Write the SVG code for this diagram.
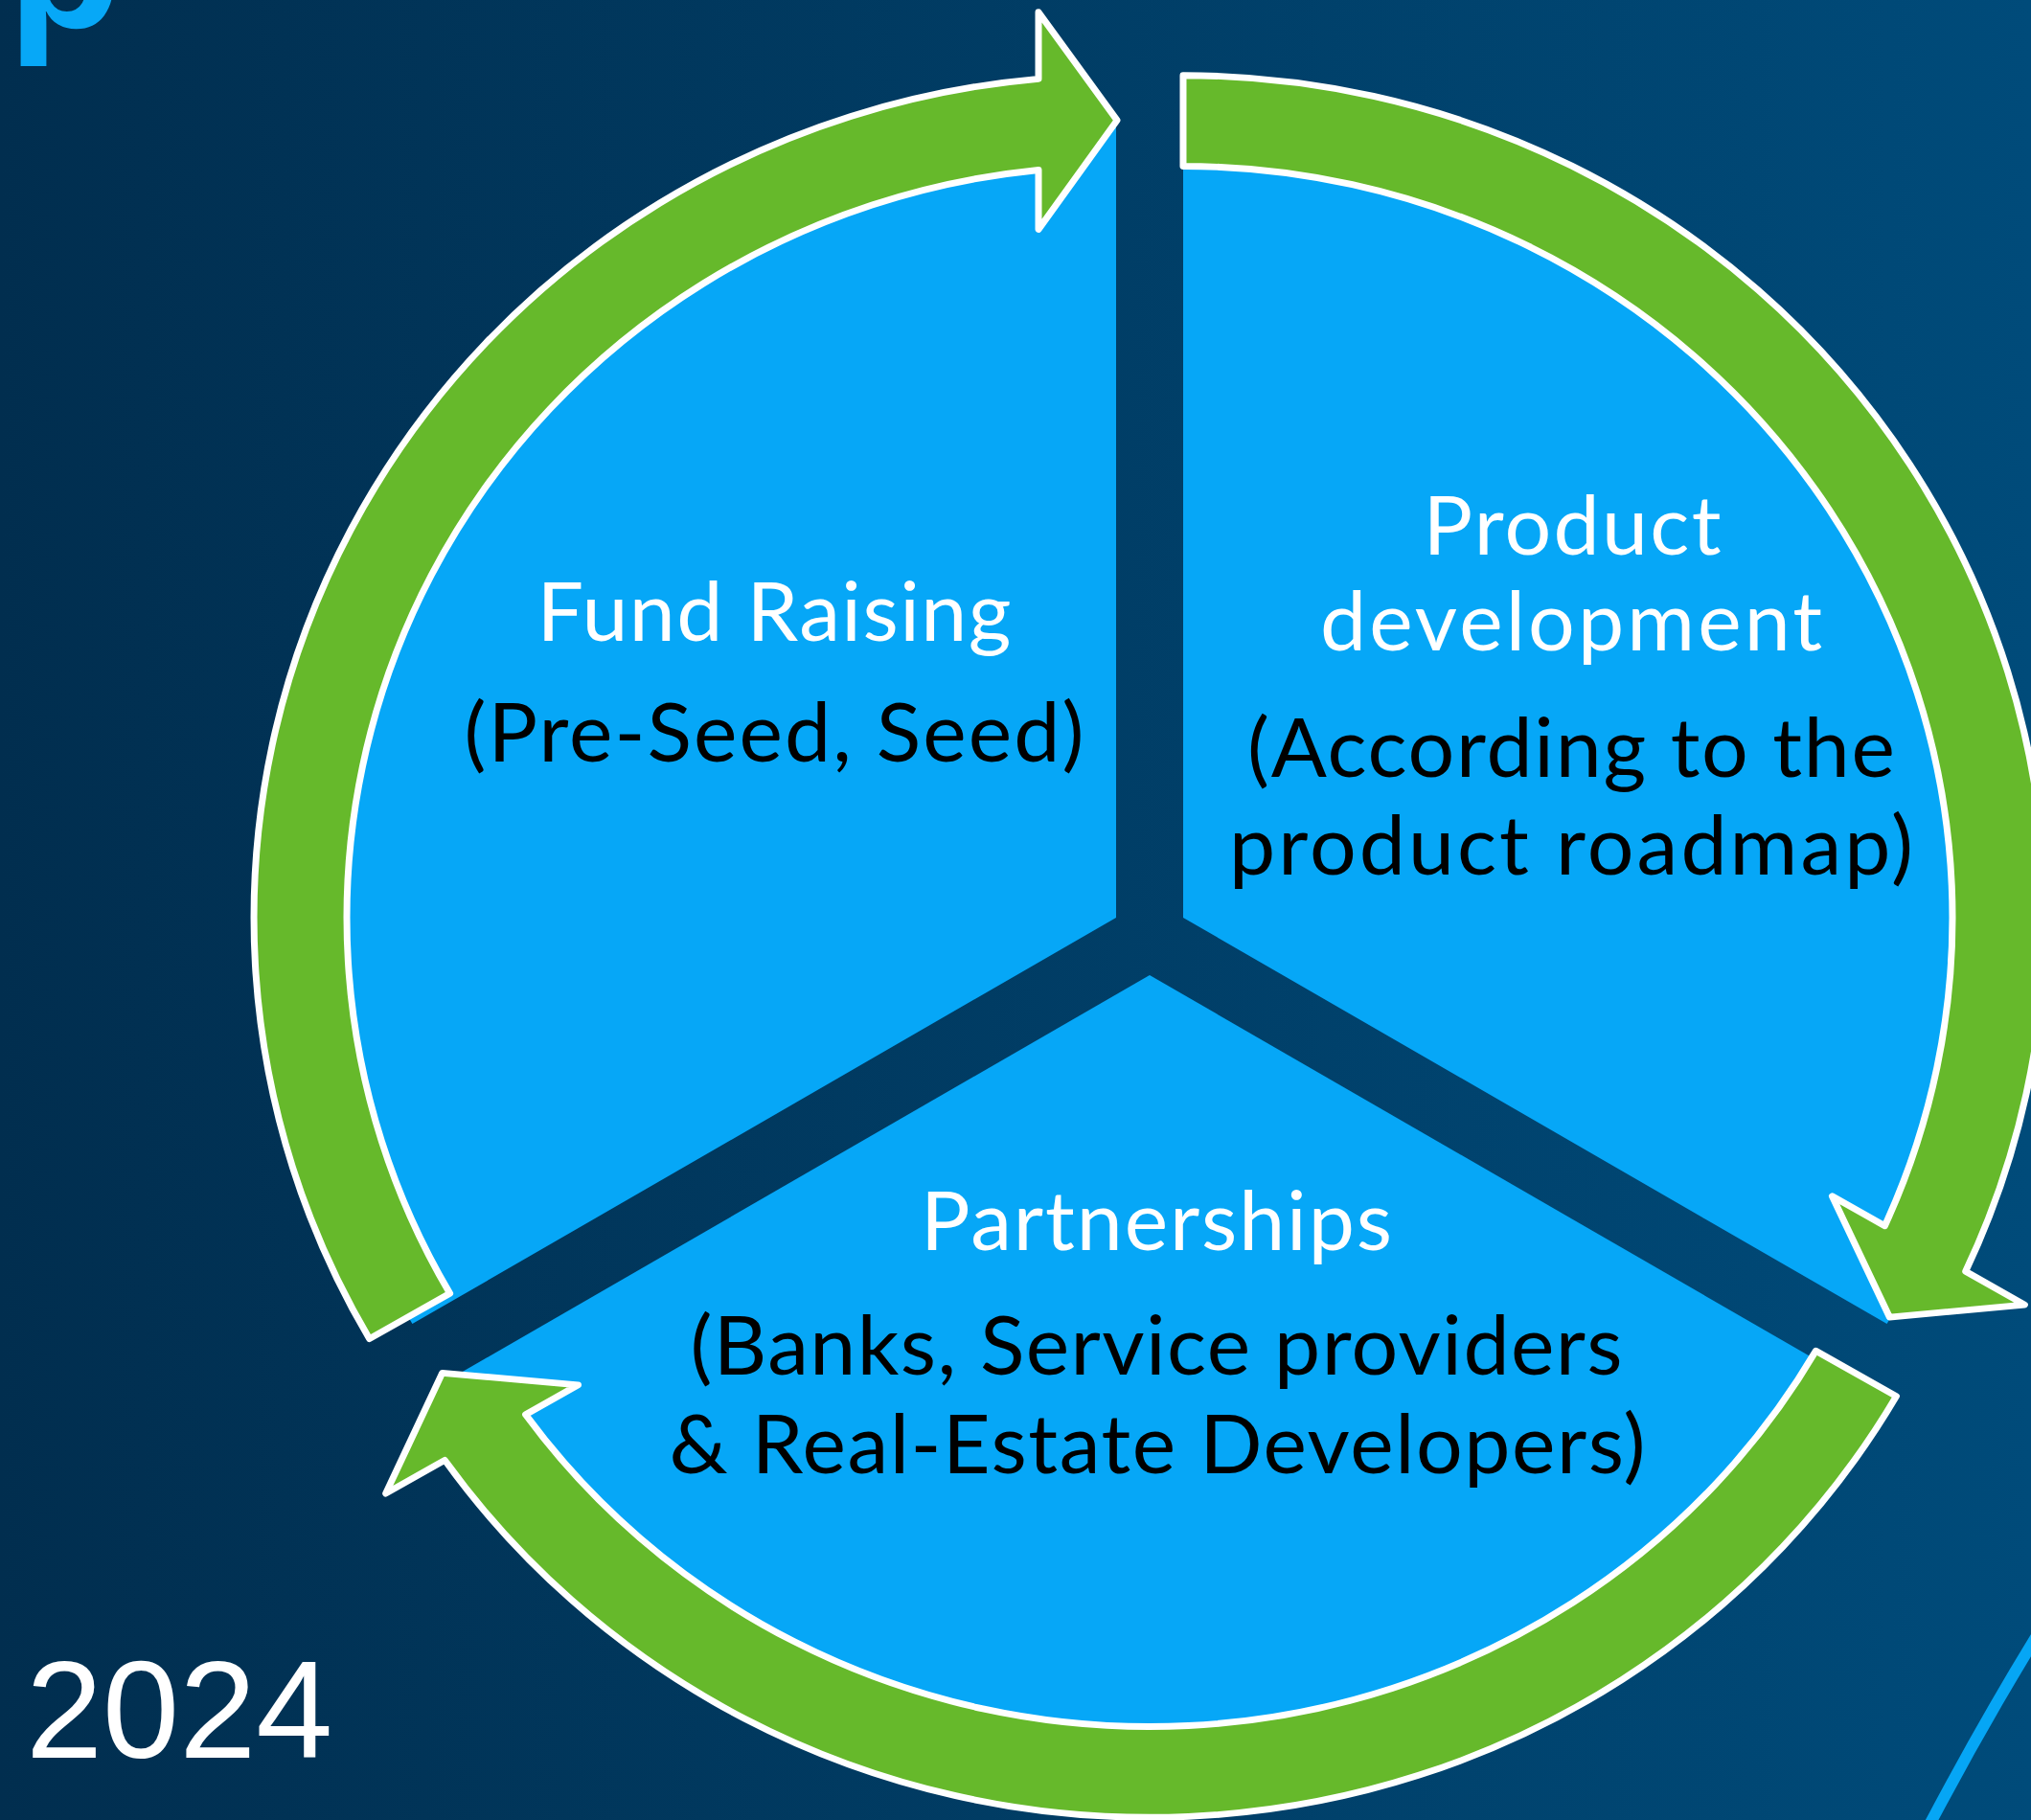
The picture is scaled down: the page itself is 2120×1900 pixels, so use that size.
<svg xmlns="http://www.w3.org/2000/svg" width="2120" height="1900" viewBox="0 0 2120 1900">
<defs>
<linearGradient id="bg" x1="0" y1="0" x2="1" y2="0">
<stop offset="0" stop-color="#012E4F"/>
<stop offset="1" stop-color="#004B7A"/>
</linearGradient>
<path id="arrowShape" d="M -779.4,450 A 900 900 0 0 1 -81,-896.3 L -81,-967.5 L 1,-852 L -81,-735.5 L -81,-798.9 A 803 803 0 0 0 -695.4,401.5 Z"/>
<style>
.wedge{fill:#06A7F7}
.arrow{fill:#66B92B;stroke:#FFFFFF;stroke-width:7;stroke-linejoin:round}
.t{font-family:Lato,'Open Sans',sans-serif;font-size:86px;text-anchor:middle}
.w{fill:#FFFFFF}
.b{fill:#000000}
</style>
</defs>
<rect x="0" y="0" width="2120" height="1900" fill="url(#bg)"/>
<text x="8" y="29" font-family="'Liberation Sans',Arial,sans-serif" font-weight="bold" font-size="195" fill="#07A8F7">p</text>
<path d="M2132,1698 Q2072,1795 2014,1905" fill="none" stroke="#06A6F5" stroke-width="12"/>
<text x="27" y="1835" font-family="'Liberation Sans',Arial,sans-serif" font-size="144" fill="#FFFFFF">2024</text>

<g id="node-fund-raising">
<path class="wedge" d="M1165,958 L1165,123 A853 835 0 0 0 430.4,1382.1 Z"/>
<text class="t w" x="808" y="669" textLength="495">Fund Raising</text>
<text class="t b" x="808" y="795" textLength="647">(Pre-Seed, Seed)</text>
</g>
<g id="node-product-development">
<path class="wedge" d="M1235,958 L1235,123 A853 835 0 0 1 1969.6,1382.1 Z"/>
<text class="t w" x="1641" y="579" textLength="311">Product</text>
<text class="t w" x="1640" y="679" textLength="524">development</text>
<text class="t b" x="1640" y="811" textLength="676">(According to the</text>
<text class="t b" x="1640" y="913" textLength="714">product roadmap)</text>
</g>
<g id="node-partnerships">
<path class="wedge" d="M1200,1018 L1934.6,1442.1 A853 835 0 0 1 465.4,1442.1 Z"/>
<text class="t w" x="1207" y="1305" textLength="492">Partnerships</text>
<text class="t b" x="1207" y="1435" textLength="973">(Banks, Service providers</text>
<text class="t b" x="1208" y="1538" textLength="1019">&amp; Real-Estate Developers)</text>
</g>

<g id="connectors">
<use href="#arrowShape" class="arrow" transform="translate(1165,958) scale(1,0.977)"/>
<use href="#arrowShape" class="arrow" transform="translate(1235,958) scale(1,0.977) rotate(120)"/>
<use href="#arrowShape" class="arrow" transform="translate(1200,1018) scale(1,0.977) rotate(240)"/>
</g>
</svg>
